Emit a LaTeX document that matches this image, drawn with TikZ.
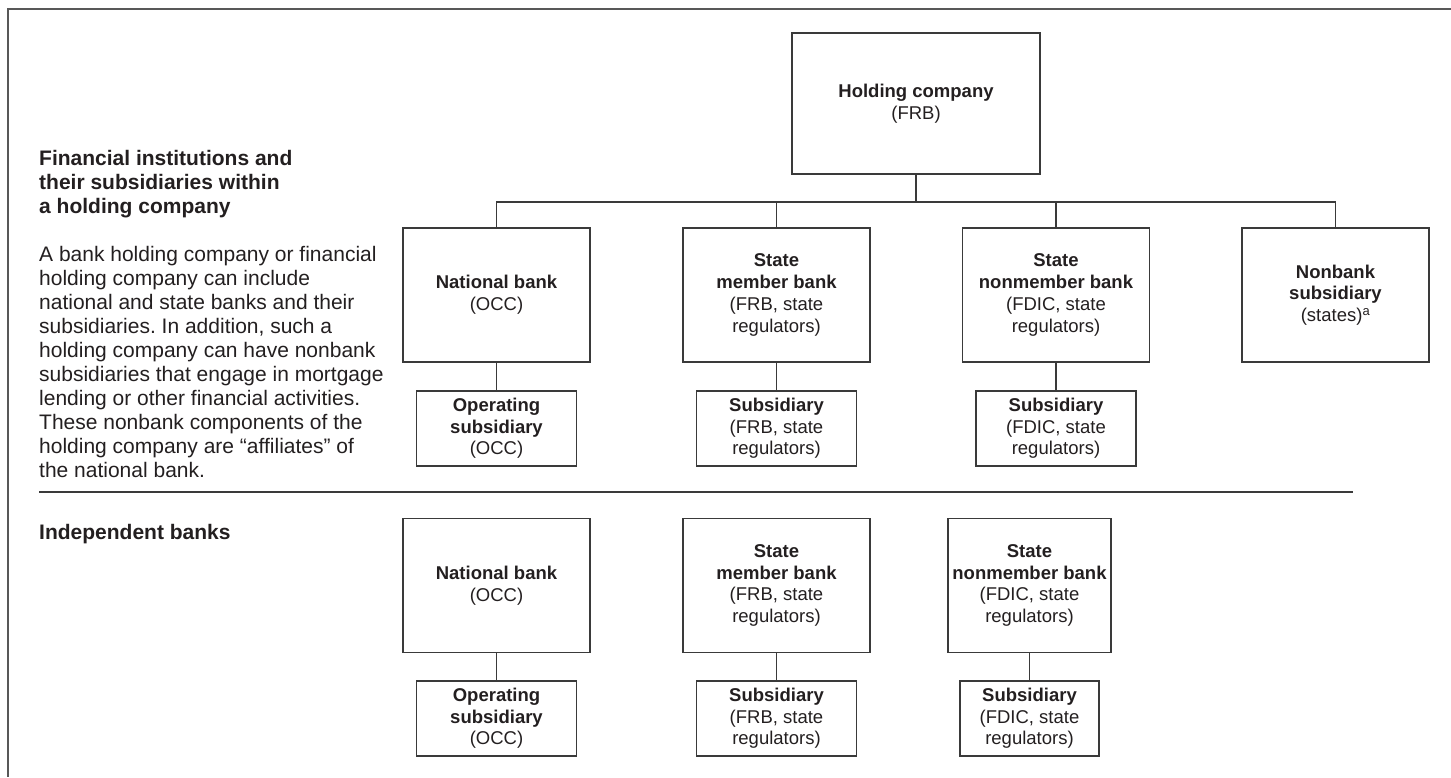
\documentclass[tikz,border=0pt]{standalone}
\usepackage{fontspec}
\setmainfont{Liberation Sans}
\frenchspacing
\definecolor{ink}{HTML}{231F20}
\definecolor{rule}{HTML}{3A3A3A}
\tikzset{
  box/.style={draw=rule, line width=1.3pt, align=center, text=ink, inner sep=0pt,
    font=\fontsize{18.5}{21.7}\selectfont},
  bigbox/.style={box, minimum width=187pt, minimum height=134pt},
  subbox/.style={box, minimum width=160pt, minimum height=75pt},
  conn/.style={draw=rule, line width=1.3pt},
  frame/.style={draw=rule!85, line width=1.8pt},
  lefttext/.style={anchor=base west, align=left, text=ink, inner sep=0pt,
    font=\fontsize{21}{24}\selectfont}
}
\begin{document}
\begin{tikzpicture}[x=1pt,y=-1pt]
\useasboundingbox (0,0) rectangle (1451,777);
% frame
\draw[frame] (1451,9) -- (8,9) -- (8,777);
% left texts (anchored at the baseline of their last line)
\node[lefttext] (h1) at (39,213) {\textbf{Financial institutions and}\\\textbf{their subsidiaries within}\\\textbf{a holding company}};
\node[lefttext] (body) at (39,477) {A bank holding company or financial\\holding company can include\\national and state banks and their\\subsidiaries. In addition, such a\\holding company can have nonbank\\subsidiaries that engage in mortgage\\lending or other financial activities.\\These nonbank components of the\\holding company are “affiliates” of\\the national bank.};
\node[lefttext] (h2) at (39,539) {\textbf{Independent banks}};
% separator
\coordinate (sepL) at (39,492);
\coordinate (sepR) at (1353,492);
\draw[conn] (sepL) -- (sepR);
% holding company
\node[box, minimum width=248pt, minimum height=141pt] (hc) at (916,103.5) {\textbf{Holding company}\\(FRB)};
% top row
\node[bigbox] (nb1) at (496.5,295) {\textbf{National bank}\\(OCC)};
\node[bigbox] (smb1) at (776.5,295) {\textbf{State}\\\textbf{member bank}\\(FRB, state\\regulators)};
\node[bigbox] (snm1) at (1056,295) {\textbf{State}\\\textbf{nonmember bank}\\(FDIC, state\\regulators)};
\node[bigbox] (nbs) at (1335.5,295) {\textbf{Nonbank}\\\textbf{subsidiary}\\(states)\textsuperscript{a}};
\node[subbox] (os1) at (496.5,428.5) {\textbf{Operating}\\\textbf{subsidiary}\\(OCC)};
\node[subbox] (s1) at (776.5,428.5) {\textbf{Subsidiary}\\(FRB, state\\regulators)};
\node[subbox] (s2) at (1056,428.5) {\textbf{Subsidiary}\\(FDIC, state\\regulators)};
% bottom row
\node[bigbox] (nb2) at (496.5,585.5) {\textbf{National bank}\\(OCC)};
\node[bigbox] (smb2) at (776.5,585.5) {\textbf{State}\\\textbf{member bank}\\(FRB, state\\regulators)};
\node[bigbox, minimum width=163pt] (snm2) at (1029.5,585.5) {\textbf{State}\\\textbf{nonmember bank}\\(FDIC, state\\regulators)};
\node[subbox] (os2) at (496.5,718.5) {\textbf{Operating}\\\textbf{subsidiary}\\(OCC)};
\node[subbox] (s3) at (776.5,718.5) {\textbf{Subsidiary}\\(FRB, state\\regulators)};
\node[subbox, minimum width=139pt] (s4) at (1029.5,718.5) {\textbf{Subsidiary}\\(FDIC, state\\regulators)};
% connectors
\coordinate (bar) at (916,202);
\draw[conn] (hc.south) -- ([yshift=-1pt]hc.south |- bar);
\draw[conn] (nb1.north) -- (nb1.north |- bar) -| (nbs.north);
\draw[conn] (smb1.north) -- (smb1.north |- bar);
\draw[conn] (snm1.north) -- (snm1.north |- bar);
\draw[conn] (nb1.south) -- (os1.north);
\draw[conn] (smb1.south) -- (s1.north);
\draw[conn] (snm1.south) -- (s2.north);
\draw[conn] (nb2.south) -- (os2.north);
\draw[conn] (smb2.south) -- (s3.north);
\draw[conn] (snm2.south) -- (s4.north);
\end{tikzpicture}
\end{document}
